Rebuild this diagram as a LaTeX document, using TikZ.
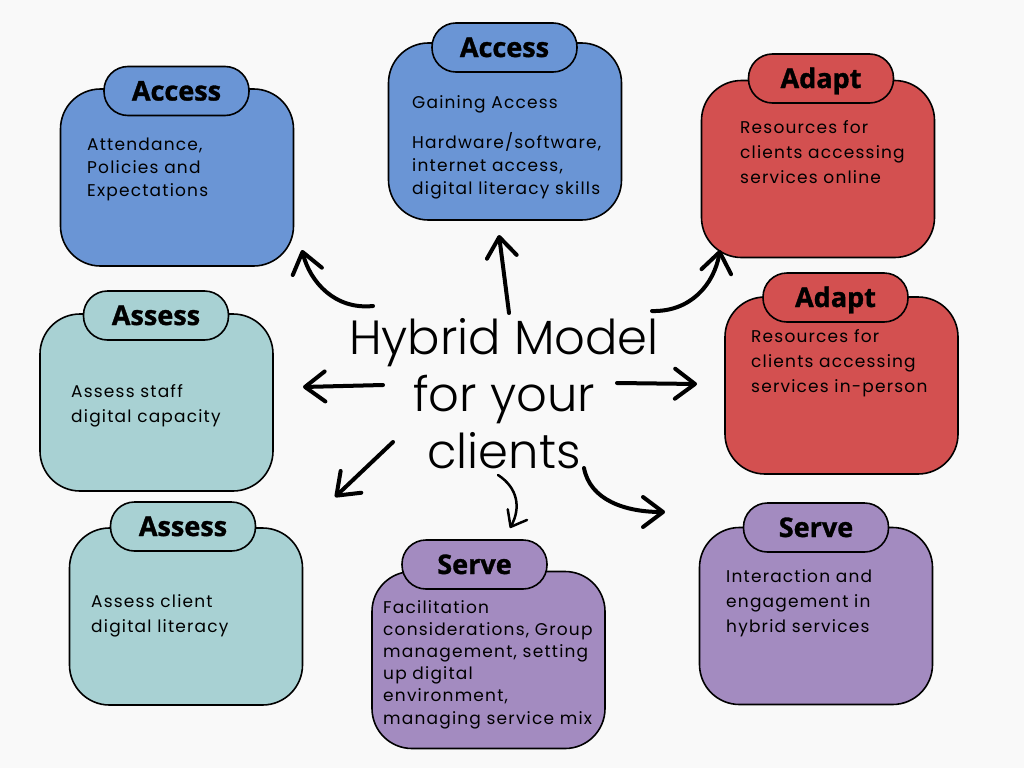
\documentclass[tikz,border=0pt]{standalone}
\usepackage{fontspec}
\setmainfont{Poppins}[LetterSpace=7]
\newfontfamily\titlefont{Open Sans}[FakeBold=1.2]
\newfontfamily\hybfont{Poppins Light}
\usetikzlibrary{arrows.meta}
\definecolor{bgc}{HTML}{F9F9F9}
\definecolor{cblue}{HTML}{6A95D5}
\definecolor{cred}{HTML}{D35050}
\definecolor{cteal}{HTML}{A8D1D3}
\definecolor{cpurp}{HTML}{A38BC0}
\begin{document}
\begin{tikzpicture}[x=1pt,y=-1pt,
  bigbox/.style={draw=black, line width=1.6, rounded corners=40, minimum width=233, minimum height=177, inner sep=0},
  tabbox/.style={draw=black, line width=1.6, rounded corners=24, minimum width=145, minimum height=49, inner sep=0,
     text height=19, text depth=0, font=\titlefont\bfseries\fontsize{27}{30}\selectfont},
  body/.style={anchor=base west, align=left, inner sep=0, font=\fontsize{17}{25}\selectfont},
  arr/.style={line width=4, line cap=round, -{Straight Barb[length=20, width=30, round]}}]
\fill[bgc] (0,0) rectangle (1024,768);
\useasboundingbox (0,0) rectangle (1024,768);

% Access left
\node[bigbox, fill=cblue] (b1) at (177,177.5) {};
\node[tabbox, fill=cblue] (t1) at (176.5,91) {Access};
\node[body, font=\fontsize{17}{23}\selectfont] (x1) at (87,196) {Attendance,\\Policies and\\Expectations};
% Access top
\node[bigbox, fill=cblue] (b2) at (505,131.5) {};
\node[tabbox, fill=cblue] (t2) at (504.5,47.5) {Access};
\node[body, font=\fontsize{17}{23}\selectfont] (x2) at (412,194) {Gaining Access\\[17pt]Hardware/software,\\internet access,\\digital literacy skills};
% Adapt online
\node[bigbox, fill=cred] (b3) at (818,169) {};
\node[tabbox, fill=cred] (t3) at (821,78.5) {Adapt};
\node[body] (x3) at (740,183) {Resources for\\clients accessing\\services online};
% Adapt in-person
\node[bigbox, fill=cred] (b4) at (841.5,385.5) {};
\node[tabbox, fill=cred] (t4) at (835.5,297.5) {Adapt};
\node[body] (x4) at (751,392) {Resources for\\clients accessing\\services in-person};
% Assess staff
\node[bigbox, fill=cteal] (b5) at (156.5,402.5) {};
\node[tabbox, fill=cteal] (t5) at (156,315.5) {Assess};
\node[body] (x5) at (71,422) {Assess staff\\digital capacity};
% Assess client
\node[bigbox, fill=cteal] (b6) at (186,616.5) {};
\node[tabbox, fill=cteal] (t6) at (183,526.5) {Assess};
\node[body] (x6) at (91,632) {Assess client\\digital literacy};
% Serve center
\node[bigbox, fill=cpurp] (b7) at (488.5,660) {};
\node[tabbox, fill=cpurp] (t7) at (474.5,564.5) {Serve};
\node[body, font=\fontsize{17}{22.2}\selectfont] (x7) at (383,724) {Facilitation\\considerations, Group\\management, setting\\up digital\\environment,\\managing service mix};
% Serve right
\node[bigbox, fill=cpurp] (b8) at (816,616) {};
\node[tabbox, fill=cpurp] (t8) at (816,527.5) {Serve};
\node[body] (x8) at (726,632) {Interaction and\\engagement in\\hybrid services};

% centre
\node[anchor=base, align=center, inner sep=0, font=\hybfont\fontsize{48}{57}\selectfont] (hub) at (504,468) {Hybrid Model\\for your\\clients};

% arrow end points
\coordinate (s1) at (373,306); \coordinate (e1) at (302,250);
\coordinate (s2) at (509,313); \coordinate (e2) at (499,235);
\coordinate (s3) at (652,311); \coordinate (e3) at (720,250);
\coordinate (s4) at (383,385); \coordinate (e4) at (303,387);
\coordinate (s5) at (617,383); \coordinate (e5) at (697,384);
\coordinate (s6) at (393,442); \coordinate (e6) at (335,497);
\coordinate (s7) at (498,475); \coordinate (e7) at (510,528);
\coordinate (s8) at (584,468); \coordinate (e8) at (665,512);

\draw[arr] (s1) .. controls (335,310) and (310,282) .. (e1);
\draw[arr] (s2) -- (e2);
\draw[arr] (s3) .. controls (690,312) and (714,285) .. (e3);
\draw[arr] (s4) -- (e4);
\draw[arr] (s5) -- (e5);
\draw[arr] (s6) -- (e6);
\draw[arr, line width=2.5, -{Straight Barb[length=14, width=22, round]}] (s7) .. controls (518,488) and (521,508) .. (e7);
\draw[arr] (s8) .. controls (590,500) and (625,512) .. (e8);
\end{tikzpicture}
\end{document}
